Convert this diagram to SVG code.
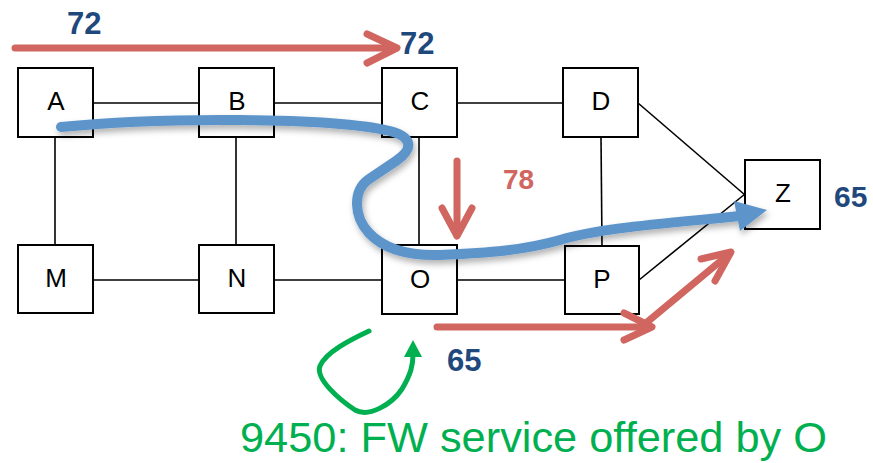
<svg xmlns="http://www.w3.org/2000/svg" width="873" height="463" viewBox="0 0 873 463">
<style>
.box{fill:#fff;stroke:#000;stroke-width:2}
.lbl{font-family:"Liberation Sans",Arial,sans-serif;font-size:26px;fill:#000;text-anchor:middle}
.edge{stroke:#000;stroke-width:1.6;fill:none}
.red{stroke:#D0665F;stroke-width:7;fill:none;stroke-linecap:round;stroke-linejoin:round}
.num{font-family:"Liberation Sans",Arial,sans-serif;font-weight:bold;fill:#1F497D}
.green{stroke:#00B050;stroke-width:5;fill:none;stroke-linecap:round}
</style>
<defs>
<filter id="sh" x="-10%" y="-20%" width="120%" height="150%">
<feDropShadow dx="2" dy="4" stdDeviation="3" flood-color="#000" flood-opacity="0.3"/>
</filter>
</defs>
<rect width="873" height="463" fill="#fff"/>
<g id="connectors">
<line class="edge" x1="93" y1="103" x2="199" y2="103"/>
<line class="edge" x1="274" y1="103" x2="382" y2="103"/>
<line class="edge" x1="457" y1="103" x2="563" y2="103"/>
<line class="edge" x1="93" y1="280" x2="199" y2="280"/>
<line class="edge" x1="274" y1="280" x2="382" y2="280"/>
<line class="edge" x1="457" y1="280" x2="565" y2="280"/>
<line class="edge" x1="55" y1="137" x2="55" y2="245"/>
<line class="edge" x1="236" y1="137" x2="236" y2="245"/>
<line class="edge" x1="419" y1="137" x2="419" y2="245"/>
<line class="edge" x1="601" y1="137" x2="602" y2="246"/>
<line class="edge" x1="638" y1="103" x2="745" y2="195"/>
<line class="edge" x1="639" y1="280" x2="745" y2="194"/>
</g>
<g id="node-A"><rect class="box" x="18" y="68" width="75" height="69"/><text class="lbl" x="56" y="110">A</text></g>
<g id="node-B"><rect class="box" x="199" y="68" width="75" height="69"/><text class="lbl" x="237" y="110">B</text></g>
<g id="node-C"><rect class="box" x="382" y="68" width="75" height="69"/><text class="lbl" x="420" y="110">C</text></g>
<g id="node-D"><rect class="box" x="563" y="68" width="75" height="69"/><text class="lbl" x="601" y="110">D</text></g>
<g id="node-M"><rect class="box" x="18" y="245" width="75" height="68"/><text class="lbl" x="56" y="287">M</text></g>
<g id="node-N"><rect class="box" x="199" y="245" width="75" height="68"/><text class="lbl" x="237" y="287">N</text></g>
<g id="node-O"><rect class="box" x="382" y="245" width="75" height="69"/><text class="lbl" x="420" y="288">O</text></g>
<g id="node-P"><rect class="box" x="565" y="246" width="74" height="68"/><text class="lbl" x="602" y="288">P</text></g>
<g id="node-Z"><rect class="box" x="745" y="160" width="75" height="69"/><text class="lbl" x="783" y="202">Z</text></g>
<g id="red-arrows">
<line class="red" x1="15" y1="48" x2="395" y2="48"/>
<polyline class="red" points="367,34 397,48 367,63"/>
<line class="red" x1="457" y1="161" x2="457" y2="234"/>
<polyline class="red" points="442,208 457,236 472,208"/>
<line class="red" x1="437" y1="327" x2="649" y2="327"/>
<polyline class="red" points="624,313 652,327 624,340"/>
<line class="red" x1="646" y1="323" x2="729" y2="254"/>
<polyline class="red" points="701,259 731,252 715,281"/>
</g>
<g id="blue-path" filter="url(#sh)">
<path d="M61,127 C160,117 330,117 390,131 C416,138 411,151 396,161 L369,179 C352,191 354,217 369,233 C385,250 410,256 440,255 C490,253 525,250 560,240 C600,228 660,224 740,216" fill="none" stroke="#5D95CB" stroke-width="10" stroke-linecap="round"/>
<polygon points="767,210 734,201 740,231" fill="#5D95CB"/>
</g>
<g id="green-loop">
<path class="green" d="M369,331 C350,340 326,352 320,366 C315,379 340,400 355,410 C369,418 392,404 402,389 C411,374 413,365 413,354"/>
<polygon points="413,340 404,357 422,357" fill="#00B050"/>
</g>
<g id="labels">
<text class="num" x="67" y="34" font-size="31">72</text>
<text class="num" x="400" y="54" font-size="31">72</text>
<text class="num" x="503" y="189" font-size="28" style="fill:#D0665F">78</text>
<text class="num" x="447" y="371" font-size="31">65</text>
<text class="num" x="834" y="207" font-size="30">65</text>
<text x="240" y="452" font-family="'Liberation Sans',Arial,sans-serif" font-size="42" fill="#00B050" textLength="587" lengthAdjust="spacingAndGlyphs">9450: FW service offered by O</text>
</g>
</svg>
